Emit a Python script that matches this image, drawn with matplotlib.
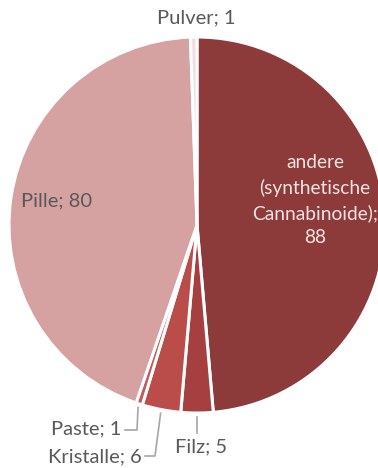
import matplotlib
matplotlib.use("Agg")
import matplotlib.pyplot as plt
import numpy as np

labels = ["andere\n(synthetische\nCannabinoide);\n88", "Filz; 5", "Kristalle; 6", "Paste; 1", "Pille; 80", "Pulver; 1"]
values = [88, 5, 6, 1, 80, 1]
colors = ["#8C3A3A", "#A63F3F", "#BA4C4A", "#C25A58", "#D5A1A1", "#F2DCDC"]

plt.rcParams["font.family"] = ["Lato", "DejaVu Sans"]

W, H = 378, 468
fig = plt.figure(figsize=(W / 100, H / 100), dpi=100)
cx, cy, r = 197, 225, 188
ax = fig.add_axes([(cx - r) / W, (H - cy - r) / H, 2 * r / W, 2 * r / H])

wedges, _ = ax.pie(values, startangle=90, counterclock=False, colors=colors, radius=1,
                   wedgeprops=dict(edgecolor="white", linewidth=2.2))
for w in wedges:
    w.set_clip_on(False)
ax.set_xlim(-1, 1)
ax.set_ylim(-1, 1)
ax.set_aspect("equal")
ax.axis("off")

gray = "#595959"
fs = 14.5

# angle of each wedge's middle
total = sum(values)
mids = []
start = 90.0
for v in values:
    span = v / total * 360
    mids.append(np.deg2rad(start - span / 2))
    start -= span

def px(x, y):
    return ((x - cx) / r, (cy - y) / r)

# inside label for the large dark wedge
ax.text(*px(315, 200), labels[0], ha="center", va="center", color="#F3E3E3",
        fontsize=13.8, linespacing=1.5, clip_on=False)
# inside label for Pille
ax.text(*px(57, 201), labels[4], ha="center", va="center", color=gray, fontsize=fs)
# Pulver above the pie
ax.text(*px(196, 18), labels[5], ha="center", va="center", color=gray, fontsize=fs, clip_on=False)

line_kw = dict(color="#A6A6A6", linewidth=1.2, clip_on=False)
# Filz
x0, y0 = np.cos(mids[1]), np.sin(mids[1])
ax.plot([x0 * 1.02, x0 * 1.02], [y0 * 1.02, px(0, 433)[1]], **line_kw)
ax.text(*px(201, 447), labels[1], ha="center", va="center", color=gray, fontsize=fs, clip_on=False)
# Kristalle
x0, y0 = np.cos(mids[2]), np.sin(mids[2])
ax.plot([x0 * 1.02, px(155, 0)[0], px(145, 0)[0]],
        [y0 * 1.02, px(0, 456)[1], px(0, 456)[1]], **line_kw)
ax.text(*px(142, 457), labels[2], ha="right", va="center", color=gray, fontsize=fs, clip_on=False)
# Paste
x0, y0 = np.cos(mids[3]), np.sin(mids[3])
ax.plot([x0 * 1.02, px(137, 0)[0], px(125, 0)[0]],
        [y0 * 1.02, px(0, 430)[1], px(0, 430)[1]], **line_kw)
ax.text(*px(121, 429), labels[3], ha="right", va="center", color=gray, fontsize=fs, clip_on=False)

fig.savefig("out.png", dpi=100)
